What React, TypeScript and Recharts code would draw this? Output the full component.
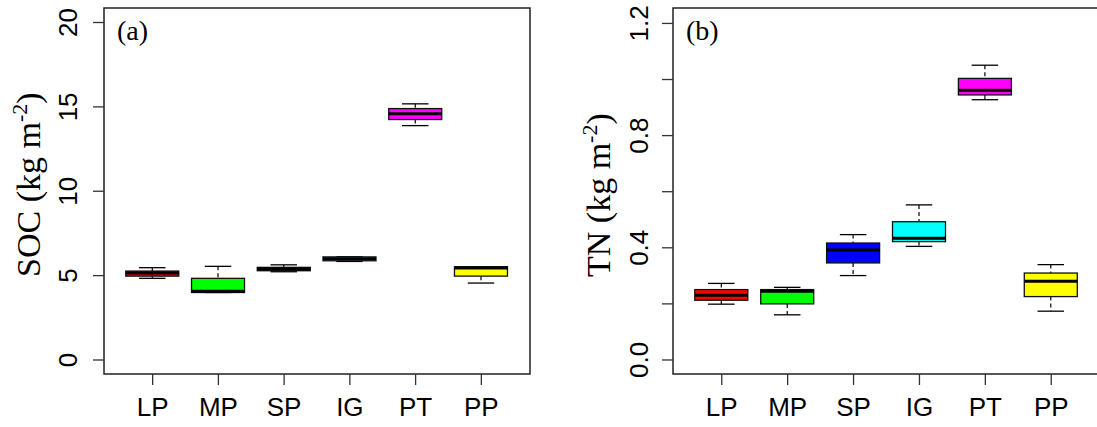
import { ComposedChart, Bar, XAxis, YAxis, ReferenceArea } from "recharts";

const SANS = "'Liberation Sans', Arial, sans-serif";
const SERIF = "'Liberation Serif', 'Times New Roman', serif";

const categories = ["LP", "MP", "SP", "IG", "PT", "PP"];
const positions = [1, 2, 3, 4, 5, 6];
const fills = ["#ff0000", "#00ff00", "#0000ff", "#00ffff", "#ff00ff", "#ffff00"];

// panel (a) SOC, kg m-2
const socMax = [5.47, 5.55, 5.64, 6.12, 15.18, 5.53];
const socQ3 = [5.27, 4.84, 5.49, 6.11, 14.9, 5.53];
const socMed = [5.15, 4.07, 5.39, 6.0, 14.6, 5.45];
const socQ1 = [4.97, 4.0, 5.29, 5.88, 14.25, 4.97];
const socMin = [4.84, 4.0, 5.23, 5.84, 13.89, 4.56];
const socTicks = [0, 5, 10, 15, 20];

// panel (b) TN, kg m-2
const tnMax = [0.273, 0.259, 0.447, 0.553, 1.051, 0.34];
const tnQ3 = [0.251, 0.251, 0.417, 0.493, 1.004, 0.31];
const tnMed = [0.231, 0.245, 0.392, 0.434, 0.962, 0.281];
const tnQ1 = [0.213, 0.2, 0.346, 0.422, 0.945, 0.226];
const tnMin = [0.199, 0.161, 0.301, 0.405, 0.928, 0.174];
const tnTicks = [0, 0.2, 0.4, 0.6, 0.8, 1.0, 1.2];
const tnLabelled = [0, 0.4, 0.8, 1.2];

type Row = {
  name: string;
  pos: number;
  fill: string;
  max: number;
  q3: number;
  med: number;
  q1: number;
  min: number;
};

const build = (mx: number[], q3: number[], md: number[], q1: number[], mn: number[]): Row[] =>
  categories.map((name, i) => ({
    name,
    pos: positions[i],
    fill: fills[i],
    max: mx[i],
    q3: q3[i],
    med: md[i],
    q1: q1[i],
    min: mn[i],
  }));

const socData = build(socMax, socQ3, socMed, socQ1, socMin);
const tnData = build(tnMax, tnQ3, tnMed, tnQ1, tnMin);

// draws one box from the range bar [min, max]
const BoxShape = (props: any) => {
  const { x, y, width, height, payload } = props;
  const p: Row = payload;
  if (!p || p.max === p.min) return null;
  const top = Math.min(y, y + height);
  const h = Math.abs(height);
  const k = h / (p.max - p.min);
  const py = (v: number) => top + (p.max - v) * k;
  const cx = x + width / 2;
  const cap = width / 4;
  return (
    <g>
      <line x1={cx} x2={cx} y1={py(p.max)} y2={py(p.q3)} stroke="#000" strokeWidth={1.2} strokeDasharray="4 3" />
      <line x1={cx} x2={cx} y1={py(p.q1)} y2={py(p.min)} stroke="#000" strokeWidth={1.2} strokeDasharray="4 3" />
      <line x1={cx - cap} x2={cx + cap} y1={py(p.max)} y2={py(p.max)} stroke="#000" strokeWidth={1.3} />
      <line x1={cx - cap} x2={cx + cap} y1={py(p.min)} y2={py(p.min)} stroke="#000" strokeWidth={1.3} />
      <rect x={x} y={py(p.q3)} width={width} height={py(p.q1) - py(p.q3)} fill={p.fill} stroke="#111" strokeWidth={1.3} />
      <line x1={x} x2={x + width} y1={py(p.med)} y2={py(p.med)} stroke="#000" strokeWidth={3} />
    </g>
  );
};

const XTick = (props: any) => {
  const { x, y, payload } = props;
  return (
    <text x={x} y={y} dy={29} textAnchor="middle" fontFamily={SANS} fontSize={26} fill="#000">
      {categories[payload.value - 1]}
    </text>
  );
};

const YTick = (props: any) => {
  const { x, y, payload, labels, digits } = props;
  const v: number = payload.value;
  if (labels && !labels.some((l: number) => Math.abs(l - v) < 1e-9)) return null;
  return (
    <text transform={`translate(${x},${y}) rotate(-90)`} textAnchor="middle" fontFamily={SANS} fontSize={26} fill="#000">
      {v.toFixed(digits)}
    </text>
  );
};

const AxisTitle = (props: any) => {
  const { main, bx } = props;
  return (
    <text transform={`translate(${bx},277) rotate(-90)`} textAnchor="start" fontFamily={SERIF} fontSize={34} fill="#000">
      {main} (kg m<tspan dy={-13} fontSize={22}>-2</tspan>
      <tspan dy={13}>)</tspan>
    </text>
  );
};

const PanelTag = (props: any) => {
  const { viewBox, text } = props;
  if (!viewBox) return null;
  return (
    <text x={viewBox.x + 13} y={viewBox.y + 32} fontFamily={SERIF} fontSize={28} fill="#000">
      {text}
    </text>
  );
};

type PanelProps = {
  data: Row[];
  width: number;
  right: number;
  yWidth: number;
  yDomain: [number, number];
  yTicks: number[];
  labels?: number[];
  digits: number;
  tickMargin: number;
  title: string;
  titleX: number;
  tag: string;
};

const Panel = (p: PanelProps) => (
  <ComposedChart width={p.width} height={427} data={p.data} margin={{ top: 8, right: p.right, bottom: 0, left: 0 }}>
    <XAxis
      dataKey="pos"
      type="number"
      domain={[0.26, 6.74]}
      ticks={positions}
      interval={0}
      allowDataOverflow
      axisLine={false}
      tickSize={11}
      tickLine={{ stroke: "#333", strokeWidth: 1.3 }}
      tick={<XTick />}
      height={53}
    />
    <YAxis
      type="number"
      domain={p.yDomain}
      ticks={p.yTicks}
      interval={0}
      allowDataOverflow
      axisLine={false}
      tickSize={11}
      tickMargin={p.tickMargin}
      tickLine={{ stroke: "#333", strokeWidth: 1.3 }}
      tick={<YTick labels={p.labels} digits={p.digits} />}
      width={p.yWidth}
      label={<AxisTitle main={p.title} bx={p.titleX} />}
    />
    <ReferenceArea
      x1={0.26}
      x2={6.74}
      y1={p.yDomain[0]}
      y2={p.yDomain[1]}
      fill="none"
      stroke="#222"
      strokeWidth={1.5}
      ifOverflow="visible"
      label={<PanelTag text={p.tag} />}
    />
    <Bar
      dataKey={(d: Row) => [d.min, d.max]}
      barSize={53}
      shape={<BoxShape />}
      isAnimationActive={false}
    />
  </ComposedChart>
);

export default function App() {
  return (
    <div
      style={{
        position: "fixed",
        left: 0,
        top: 0,
        width: 1097,
        height: 427,
        overflow: "hidden",
        background: "#fff",
      }}
    >
      <div style={{ position: "absolute", left: 0, top: 0 }}>
        <Panel
          data={socData}
          width={568}
          right={38}
          yWidth={104}
          yDomain={[-0.83, 20.86]}
          yTicks={socTicks}
          digits={0}
          tickMargin={16}
          title="SOC"
          titleX={40}
          tag="(a)"
        />
      </div>
      <div style={{ position: "absolute", left: 568, top: 0 }}>
        <Panel
          data={tnData}
          width={532}
          right={0}
          yWidth={105}
          yDomain={[-0.05, 1.255]}
          yTicks={tnTicks}
          labels={tnLabelled}
          digits={1}
          tickMargin={14}
          title="TN"
          titleX={42}
          tag="(b)"
        />
      </div>
    </div>
  );
}
